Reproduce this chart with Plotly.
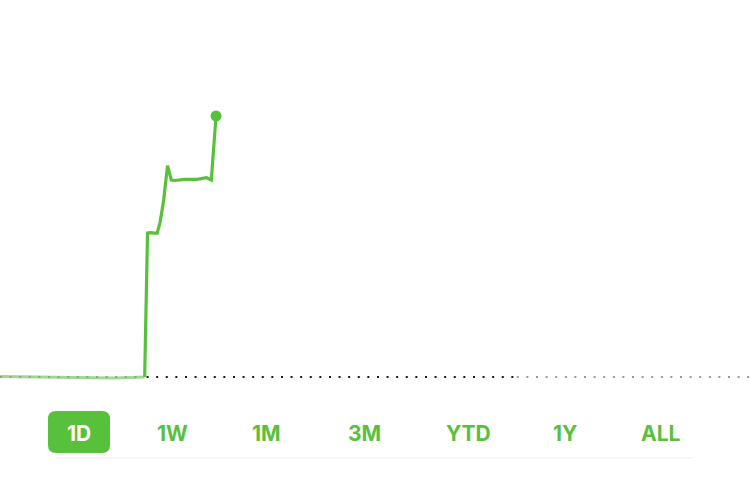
import plotly.graph_objects as go

W, H = 750, 489

# minutes after 7:00 AM
pre_t = [-3, 28, 60, 92, 118, 134, 149]
pre_v = [10.005, 10.00, 9.995, 9.99, 9.99, 9.995, 10.00]

reg_t = [149, 152, 155, 162, 165, 169, 173, 177, 181, 190, 204, 214, 219, 224]
reg_v = [10.00, 11.44, 11.443, 11.437, 11.537, 11.77, 12.113, 11.97, 11.965, 11.977, 11.977, 11.993, 11.97, 12.61]

prev_close = 10.00
open_t, close_t, end_t, start_t = 150, 540, 785, -3

labels = ["1D", "1W", "1M", "3M", "YTD", "1Y", "ALL"]
label_px = [79, 172, 266, 364, 468, 565, 661]

GREEN = "#57C13C"
LIGHT = "#9CDA8E"

fig = go.Figure()
fig.add_trace(go.Scatter(x=pre_t, y=pre_v, mode="lines",
                         line=dict(color=LIGHT, width=3), hoverinfo="skip"))
for xs, col in [([start_t, open_t - 4], "#9a9a9a"),
                ([open_t + 1, close_t - 3], "#1a1a1a"),
                ([close_t, end_t], "#9a9a9a")]:
    fig.add_trace(go.Scatter(x=xs, y=[prev_close, prev_close], mode="lines",
                             line=dict(color=col, width=2, dash="2px,7.6px"),
                             hoverinfo="skip"))
fig.add_trace(go.Scatter(x=reg_t, y=reg_v, mode="lines",
                         line=dict(color=GREEN, width=3.2), hoverinfo="skip"))
fig.add_trace(go.Scatter(x=[reg_t[-1]], y=[reg_v[-1]], mode="markers",
                         marker=dict(color=GREEN, size=11), hoverinfo="skip"))

# rounded button for 1D
x0, x1, y0, y1, r = 48 / W, 110 / W, 1 - 453 / H, 1 - 411 / H, 8
rx, ry = r / W, r / H
path = (f"M {x0+rx},{y0} L {x1-rx},{y0} Q {x1},{y0} {x1},{y0+ry} "
        f"L {x1},{y1-ry} Q {x1},{y1} {x1-rx},{y1} L {x0+rx},{y1} "
        f"Q {x0},{y1} {x0},{y1-ry} L {x0},{y0+ry} Q {x0},{y0} {x0+rx},{y0} Z")
fig.add_shape(type="path", path=path, xref="paper", yref="paper",
              fillcolor=GREEN, line=dict(width=0), layer="below")
fig.add_shape(type="line", xref="paper", yref="paper",
              x0=55 / W, x1=693 / W, y0=1 - 458 / H, y1=1 - 458 / H,
              line=dict(color="#ececec", width=1))

for lab, px in zip(labels, label_px):
    fig.add_annotation(x=px / W, y=1 - 433 / H, xref="paper", yref="paper",
                       text=f"<b>{lab}</b>", showarrow=False,
                       font=dict(family="Inter", size=21,
                                 color="white" if lab == "1D" else GREEN),
                       xanchor="center", yanchor="middle")

fig.update_layout(
    width=W, height=H, margin=dict(l=0, r=0, t=0, b=0),
    paper_bgcolor="white", plot_bgcolor="white", showlegend=False,
    xaxis=dict(range=[start_t, end_t], visible=False, fixedrange=True),
    yaxis=dict(range=[9.77, 13.77], domain=[89 / H, 1], visible=False,
               fixedrange=True),
)

fig.write_html("out.html", config={"displayModeBar": False},
               post_script="document.body.style.margin='0';")
